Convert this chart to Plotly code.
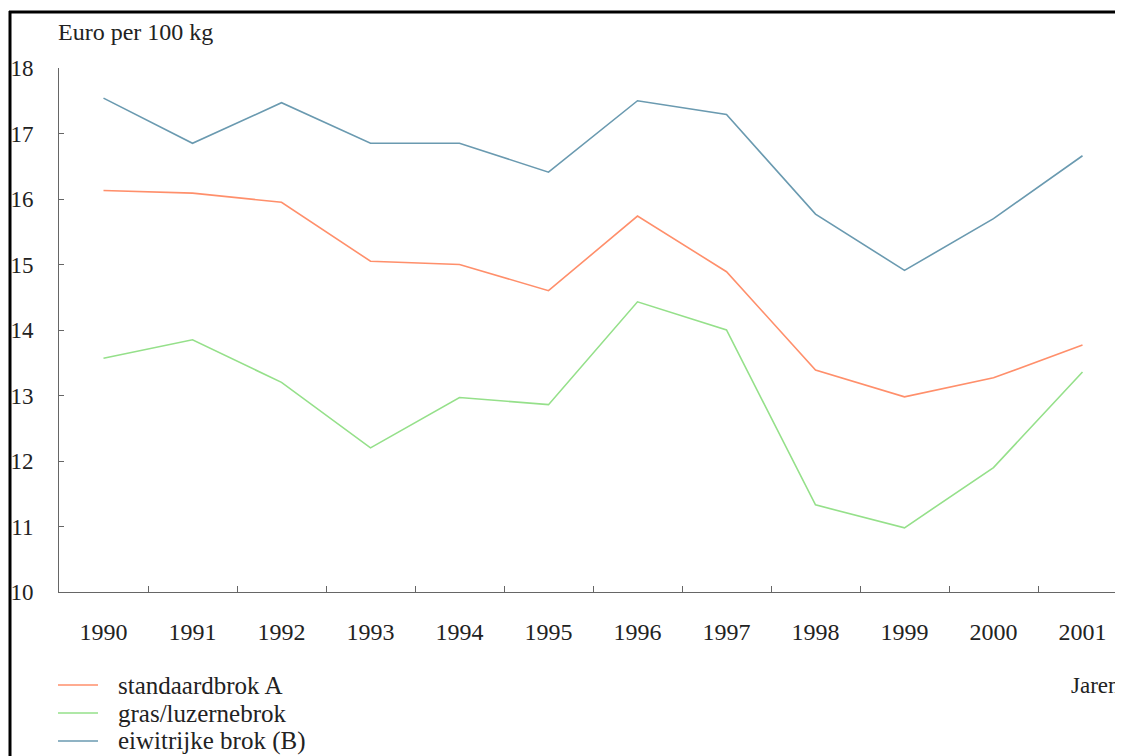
import plotly.graph_objects as go

years = ["1990", "1991", "1992", "1993", "1994", "1995", "1996", "1997", "1998", "1999", "2000", "2001"]
standaardbrok = [16.13, 16.09, 15.95, 15.05, 15.00, 14.60, 15.74, 14.89, 13.39, 12.98, 13.27, 13.77]
gras_luzerne = [13.57, 13.85, 13.20, 12.20, 12.97, 12.86, 14.43, 14.00, 11.33, 10.98, 11.90, 13.36]
eiwitrijk = [17.54, 16.85, 17.47, 16.85, 16.85, 16.41, 17.50, 17.29, 15.77, 14.91, 15.70, 16.66]

series_names = ["standaardbrok A", "gras/luzernebrok", "eiwitrijke brok (B)"]
series_colors = ["#ff8f6b", "#95e08a", "#6a9ab0"]
y_ticks = [10, 11, 12, 13, 14, 15, 16, 17, 18]

OFF = 8  # page body margin
W, H = 1123 - OFF, 756 - OFF
L, T = 59 - OFF, 68 - OFF
BOT = 592 - OFF
B = H - BOT
plot_w = W - L
ph = BOT - T
FONT = "Liberation Serif, Times New Roman, serif"


def px(sx):
    return (sx - OFF - L) / plot_w


def py(sy):
    return (BOT - (sy - OFF)) / ph


fig = go.Figure()
for name, vals, col in zip(series_names, [standaardbrok, gras_luzerne, eiwitrijk], series_colors):
    fig.add_trace(go.Scatter(x=years, y=vals, mode="lines", name=name,
                             line=dict(color=col, width=1.6)))

fig.update_layout(
    width=W, height=H,
    margin=dict(l=L, r=0, t=T, b=B, pad=0),
    paper_bgcolor="white", plot_bgcolor="white",
    font=dict(family=FONT, size=22, color="#222"),
    showlegend=False,
    xaxis=dict(type="category", range=[-0.5, -0.5 + plot_w / 89.0],
               showline=True, linecolor="#666", linewidth=1,
               ticks="inside", ticklen=6, tickcolor="#666", tickson="boundaries",
               showgrid=False, zeroline=False, ticklabelstandoff=18,
               tickfont=dict(family=FONT, size=24, color="#222")),
    yaxis=dict(range=[10, 18], tickvals=y_ticks, showline=True, linecolor="#666", linewidth=1,
               ticks="inside", ticklen=5, tickcolor="#666", showgrid=False, zeroline=False,
               ticklabelstandoff=20, tickfont=dict(family=FONT, size=23, color="#222")),
)

# custom legend
leg_y = [685, 713, 741]
for name, col, ly in zip(series_names, series_colors, leg_y):
    fig.add_shape(type="line", xref="paper", yref="paper",
                  x0=px(58), x1=px(98), y0=py(ly), y1=py(ly),
                  line=dict(color=col, width=1.6))
    fig.add_annotation(text=name, xref="paper", yref="paper",
                       x=px(116), y=py(ly), xanchor="left", yanchor="middle",
                       showarrow=False, font=dict(family=FONT, size=25, color="#222"))

fig.add_annotation(text="Euro per 100 kg", xref="paper", yref="paper",
                   x=px(56), y=py(32), xanchor="left", yanchor="middle",
                   showarrow=False, font=dict(family=FONT, size=24, color="#222"))
fig.add_annotation(text="Jaren", xref="paper", yref="paper",
                   x=px(1069), y=py(685), xanchor="left", yanchor="middle",
                   showarrow=False, font=dict(family=FONT, size=23, color="#222"))
# outer frame (top and left edges only visible)
fig.add_shape(type="line", xref="paper", yref="paper",
              x0=px(9), x1=1.3, y0=py(12), y1=py(12),
              line=dict(color="black", width=3), layer="above")
fig.add_shape(type="line", xref="paper", yref="paper",
              x0=px(10), x1=px(10), y0=py(11), y1=-0.6,
              line=dict(color="black", width=3), layer="above")

fig.write_html("out.html")
